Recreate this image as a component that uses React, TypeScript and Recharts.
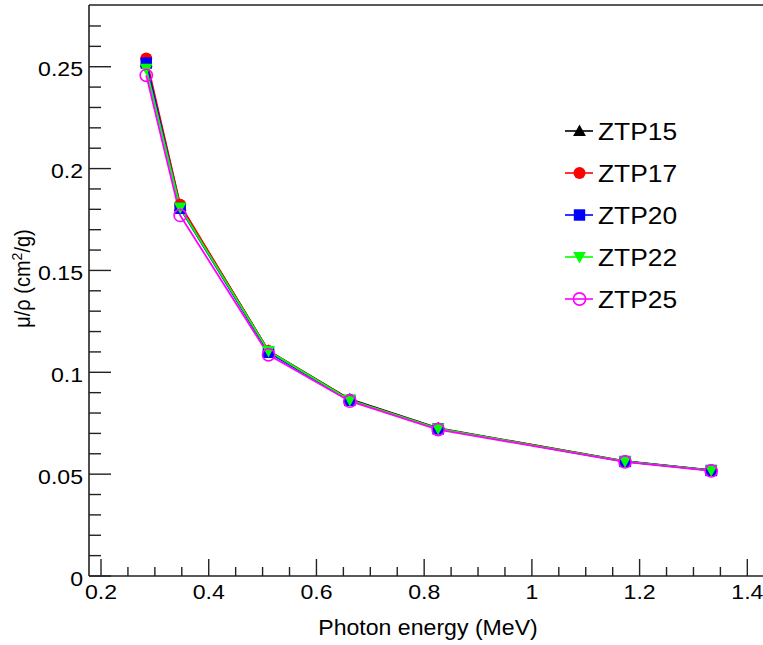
import React from 'react';
import { LineChart, Line, XAxis, YAxis, Legend, Label } from 'recharts';

// Photon energies (MeV) of the measured gamma lines
const energies = [0.284, 0.347, 0.511, 0.662, 0.826, 1.173, 1.333];

// Mass attenuation coefficients mu/rho (cm^2/g) for each glass sample
const ztp15 = [0.2525, 0.1818, 0.1106, 0.0868, 0.0726, 0.0564, 0.0520];
const ztp17 = [0.2540, 0.1822, 0.1105, 0.0865, 0.0724, 0.0563, 0.0519];
const ztp20 = [0.2518, 0.1805, 0.1098, 0.0862, 0.0722, 0.0562, 0.0518];
const ztp22 = [0.2490, 0.1808, 0.1104, 0.0864, 0.0723, 0.0563, 0.0519];
const ztp25 = [0.2458, 0.1770, 0.1086, 0.0858, 0.0719, 0.0560, 0.0516];

const seriesNames = ['ZTP15', 'ZTP17', 'ZTP20', 'ZTP22', 'ZTP25'];
const seriesValues = [ztp15, ztp17, ztp20, ztp22, ztp25];

// Axis ticks
const xMajorTicks = [0.2, 0.4, 0.6, 0.8, 1.0, 1.2, 1.4];
const xTickLabels = ['0.2', '0.4', '0.6', '0.8', '1', '1.2', '1.4'];
const xMinorTicks = [0.25, 0.3, 0.35, 0.45, 0.5, 0.55, 0.65, 0.7, 0.75, 0.85, 0.9, 0.95, 1.05, 1.1, 1.15, 1.25, 1.3, 1.35];
const yMajorTicks = [0, 0.05, 0.1, 0.15, 0.2, 0.25];
const yTickLabels = ['0', '0.05', '0.1', '0.15', '0.2', '0.25'];
const yMinorTicks = [0.01, 0.02, 0.03, 0.04, 0.06, 0.07, 0.08, 0.09, 0.11, 0.12, 0.13, 0.14, 0.16, 0.17, 0.18, 0.19, 0.21, 0.22, 0.23, 0.24, 0.26, 0.27];

const X_DOMAIN: [number, number] = [0.1777, 1.4291];
const Y_DOMAIN: [number, number] = [0, 0.2803];

const FONT = '"Liberation Sans", Arial, Helvetica, sans-serif';
const AXIS_COLOR = '#222';

type Shape = 'triUp' | 'circle' | 'square' | 'triDown' | 'openCircle';

const seriesStyles: { color: string; shape: Shape }[] = [
  { color: '#000000', shape: 'triUp' },
  { color: '#ff0000', shape: 'circle' },
  { color: '#0000ff', shape: 'square' },
  { color: '#00ff00', shape: 'triDown' },
  { color: '#ff00ff', shape: 'openCircle' },
];

const data = energies.map((e, i) => {
  const row: Record<string, number> = { energy: e };
  seriesNames.forEach((name, s) => {
    row[name] = seriesValues[s][i];
  });
  return row;
});

function Marker({ cx, cy, shape, color }: { cx: number; cy: number; shape: Shape; color: string }) {
  const s = 6.4;
  switch (shape) {
    case 'triUp':
      return <polygon points={`${cx},${cy - s} ${cx + s},${cy + s * 0.8} ${cx - s},${cy + s * 0.8}`} fill={color} />;
    case 'triDown':
      return <polygon points={`${cx},${cy + s} ${cx + s},${cy - s * 0.8} ${cx - s},${cy - s * 0.8}`} fill={color} />;
    case 'square':
      return <rect x={cx - 5.7} y={cy - 5.7} width={11.4} height={11.4} fill={color} />;
    case 'circle':
      return <circle cx={cx} cy={cy} r={6} fill={color} />;
    default:
      return <circle cx={cx} cy={cy} r={6.1} fill="none" stroke={color} strokeWidth={1.6} />;
  }
}

const near = (a: number, b: number) => Math.abs(a - b) < 1e-6;

function XTick(props: any) {
  const { x, y, payload } = props;
  const idx = xMajorTicks.findIndex((t) => near(t, payload.value));
  const major = idx >= 0;
  return (
    <g>
      <line x1={x} x2={x} y1={y} y2={y - (major ? 17 : 9)} stroke={AXIS_COLOR} strokeWidth={1.4} />
      {major && (
        <text
          transform={`translate(${x},${y + 23}) scale(1.1,1)`}
          textAnchor="middle"
          fontFamily={FONT}
          fontSize={21}
          fill="#000"
        >
          {xTickLabels[idx]}
        </text>
      )}
    </g>
  );
}

function YTick(props: any) {
  const { x, y, payload } = props;
  const idx = yMajorTicks.findIndex((t) => near(t, payload.value));
  const major = idx >= 0;
  return (
    <g>
      <line x1={x} x2={x + (major ? 22 : 12)} y1={y} y2={y} stroke={AXIS_COLOR} strokeWidth={1.4} />
      {major && (
        <text
          transform={`translate(${x - 6},${y + 9.5}) scale(1.1,1)`}
          textAnchor="end"
          fontFamily={FONT}
          fontSize={21}
          fill="#000"
        >
          {yTickLabels[idx]}
        </text>
      )}
    </g>
  );
}

function XTitle(props: any) {
  const vb = props.viewBox || { x: 0, y: 0, width: 0 };
  const cx = vb.x + vb.width / 2 + 2;
  return (
    <text
      transform={`translate(${cx},${vb.y + 59}) scale(1.05,1)`}
      textAnchor="middle"
      fontFamily={FONT}
      fontSize={22}
      fill="#000"
    >
      Photon energy (MeV)
    </text>
  );
}

function YTitle(props: any) {
  const vb = props.viewBox || { x: 0, y: 0, height: 0 };
  const cy = vb.y + vb.height / 2 - 12;
  return (
    <text
      transform={`translate(30,${cy}) rotate(-90) scale(1,1.1)`}
      textAnchor="middle"
      fontFamily={FONT}
      fontSize={20}
      fill="#000"
    >
      μ/ρ (cm<tspan dy={-7} fontSize={14}>2</tspan>
      <tspan dy={7}>/g)</tspan>
    </text>
  );
}

function LegendBox() {
  const rowGap = 42;
  return (
    <svg width={150} height={215} style={{ display: 'block', overflow: 'visible' }}>
      {seriesNames.map((name, i) => {
        const cy = 21 + i * rowGap;
        const st = seriesStyles[i];
        return (
          <g key={name}>
            <line x1={5} x2={33} y1={cy} y2={cy} stroke={st.color} strokeWidth={1.6} />
            <Marker cx={19.5} cy={cy} shape={st.shape} color={st.color} />
            <text
              transform={`translate(38,${cy + 8.5}) scale(1.1,1)`}
              fontFamily={FONT}
              fontSize={24}
              fill="#000"
            >
              {name}
            </text>
          </g>
        );
      })}
    </svg>
  );
}

export default function App() {
  return (
    <div style={{ position: 'absolute', left: 0, top: 0, background: '#fff' }}>
      <LineChart
        width={763}
        height={645}
        data={data}
        margin={{ top: 4, right: 0, bottom: 68, left: 88 }}
      >
        <XAxis
          dataKey="energy"
          type="number"
          domain={X_DOMAIN}
          allowDataOverflow
          ticks={[...xMajorTicks, ...xMinorTicks]}
          interval={0}
          tick={<XTick />}
          tickLine={false}
          tickSize={0}
          tickMargin={0}
          height={1}
          axisLine={{ stroke: AXIS_COLOR, strokeWidth: 1.6 }}
        >
          <Label content={<XTitle />} />
        </XAxis>
        <XAxis
          xAxisId="top"
          orientation="top"
          type="number"
          domain={X_DOMAIN}
          allowDataOverflow
          tick={false}
          tickLine={false}
          height={1}
          axisLine={{ stroke: AXIS_COLOR, strokeWidth: 1.6 }}
        />
        <YAxis
          type="number"
          domain={Y_DOMAIN}
          allowDataOverflow
          ticks={[...yMajorTicks, ...yMinorTicks]}
          interval={0}
          tick={<YTick />}
          tickLine={false}
          tickSize={0}
          tickMargin={0}
          width={1}
          axisLine={{ stroke: AXIS_COLOR, strokeWidth: 1.6 }}
        >
          <Label content={<YTitle />} />
        </YAxis>
        <Legend
          layout="vertical"
          align="center"
          verticalAlign="middle"
          content={<LegendBox />}
          wrapperStyle={{ position: 'absolute', left: 560, top: 110, width: 150, height: 215 }}
        />
        {seriesNames.map((name, i) => {
          const st = seriesStyles[i];
          return (
            <Line
              key={name}
              dataKey={name}
              name={name}
              type="linear"
              stroke={st.color}
              strokeWidth={1.8}
              isAnimationActive={false}
              activeDot={false}
              dot={(p: any) => (
                <Marker key={`${name}-${p.index}`} cx={p.cx} cy={p.cy} shape={st.shape} color={st.color} />
              )}
            />
          );
        })}
      </LineChart>
    </div>
  );
}
